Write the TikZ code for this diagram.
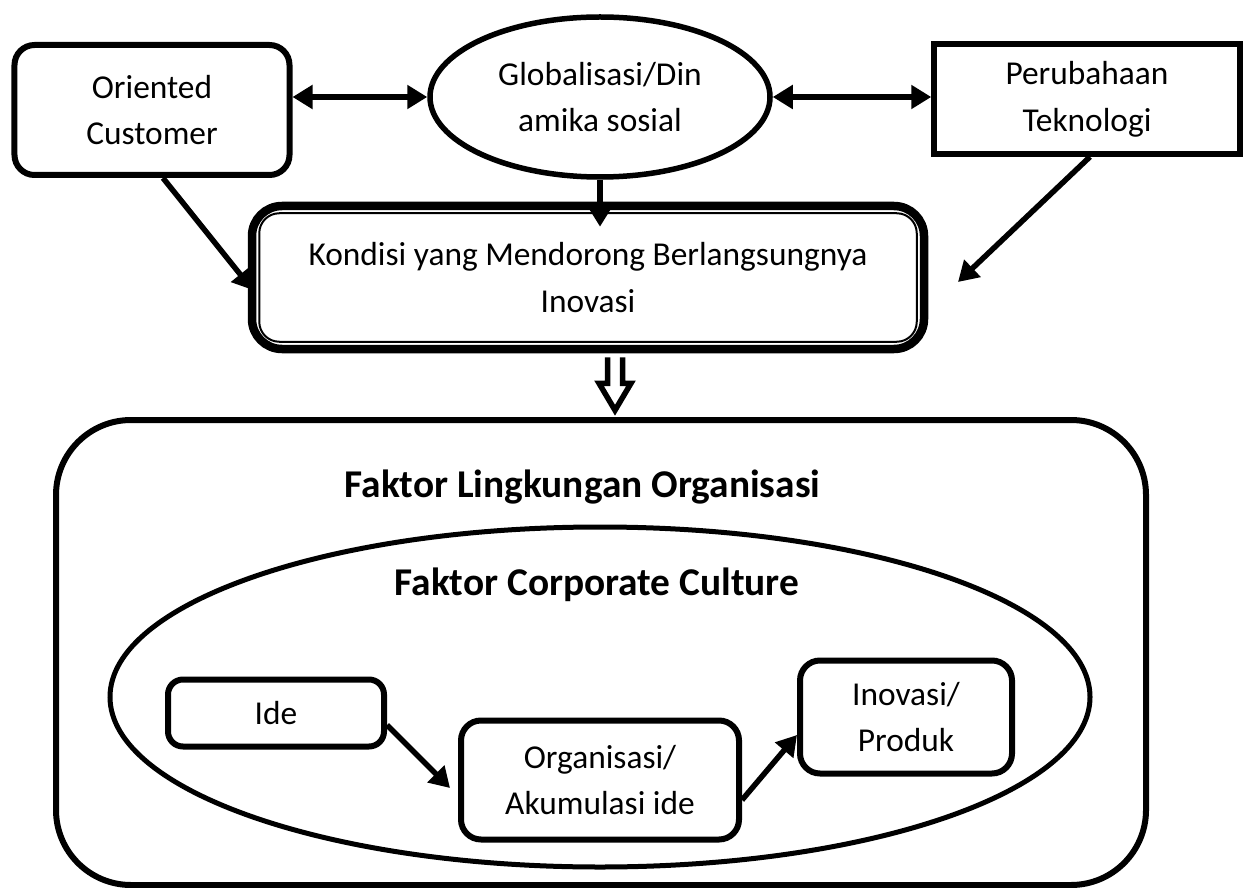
\documentclass[tikz,border=0pt]{standalone}
\usepackage{fontspec}
\setmainfont{Carlito}
\usetikzlibrary{shapes.geometric,arrows.meta}

\begin{document}
\begin{tikzpicture}[
  txt/.style={font=\fontsize{19}{26.7}\selectfont,align=center},
  ttl/.style={font=\fontsize{22.4}{26}\selectfont\bfseries},
  rbox/.style={txt,draw,line width=0.12cm,rounded corners=0.4cm,inner sep=0pt},
  arr/.style={line width=0.11cm,-{Triangle[length=0.4cm,width=0.46cm]}},
  dbl/.style={line width=0.11cm,{Triangle[length=0.4cm,width=0.46cm]}-{Triangle[length=0.4cm,width=0.46cm]}}
]
\useasboundingbox (0,0) rectangle (24.92,-17.76);

% top row
\node[rbox,minimum width=5.5cm,minimum height=2.6cm] (cust) at (3.04,-2.2) {Oriented\\Customer};
\node[txt,ellipse,draw,line width=0.11cm,inner sep=0pt,minimum width=6.8cm,minimum height=3.2cm] (glob) at (12,-1.94) {Globalisasi/Din\\amika sosial};
\node[txt,draw,line width=0.11cm,inner sep=0pt,minimum width=6.12cm,minimum height=2.2cm] (tech) at (21.74,-1.98) {Perubahaan\\Teknologi};

% kondisi box with double border
\node[txt,draw,line width=0.17cm,rounded corners=0.6cm,inner sep=0pt,minimum width=13.44cm,minimum height=2.86cm] (kond) at (11.76,-5.55) {Kondisi yang Mendorong Berlangsungnya\\Inovasi};
\draw[line width=0.04cm,rounded corners=0.4cm] ([shift={(0.23cm,0.23cm)}]kond.south west) rectangle ([shift={(-0.23cm,-0.23cm)}]kond.north east);
\coordinate (techend) at (19.16,-5.64);

\draw[dbl] (glob.west) -- (glob.west -| cust.east);
\draw[dbl] (glob.east) -- (glob.east -| tech.west);
\draw[arr] (glob.south) -- ([yshift=-0.5cm]glob.south |- kond.north);
\draw[arr] ([xshift=0.22cm]cust.south) -- ([xshift=0.1cm,yshift=-0.25cm]kond.west);
\draw[arr] ([xshift=0.06cm]tech.south) -- (techend);

% hollow arrow
\draw[line width=0.11cm,fill=white,line join=miter] ([shift={(0.39cm,-0.08cm)}]kond.south) -- ++(0,-0.52) -- ++(-0.17,0) -- ++(0.32,-0.54) -- ++(0.32,0.54) -- ++(-0.17,0) -- ++(0,0.52);

% lower part
\node[draw,line width=0.12cm,rounded corners=1.5cm,minimum width=21.8cm,minimum height=9.3cm] (env) at (12.02,-13.05) {};
\node[ttl] (envtitle) at (11.65,-9.74) {Faktor Lingkungan Organisasi};
\node[ellipse,draw,line width=0.1cm,minimum width=19.6cm,minimum height=6.8cm] (corp) at (12,-13.94) {};
\node[ttl] (corptitle) at (11.94,-11.7) {Faktor Corporate Culture};

\node[rbox,rounded corners=0.3cm,minimum width=4.32cm,minimum height=1.34cm] (ide) at (5.52,-14.26) {Ide};
\node[rbox,minimum width=5.56cm,minimum height=2.38cm] (org) at (12,-15.6) {Organisasi/\\Akumulasi ide};
\node[rbox,minimum width=4.24cm,minimum height=2.26cm] (inov) at (18.12,-14.34) {Inovasi/\\Produk};

\draw[arr] ([yshift=-0.24cm]ide.east) -- ([xshift=-0.16cm,yshift=-0.16cm]org.west);
\draw[arr] ([yshift=-0.4cm]org.east) -- ([yshift=-0.36cm]inov.west);
\end{tikzpicture}
\end{document}
